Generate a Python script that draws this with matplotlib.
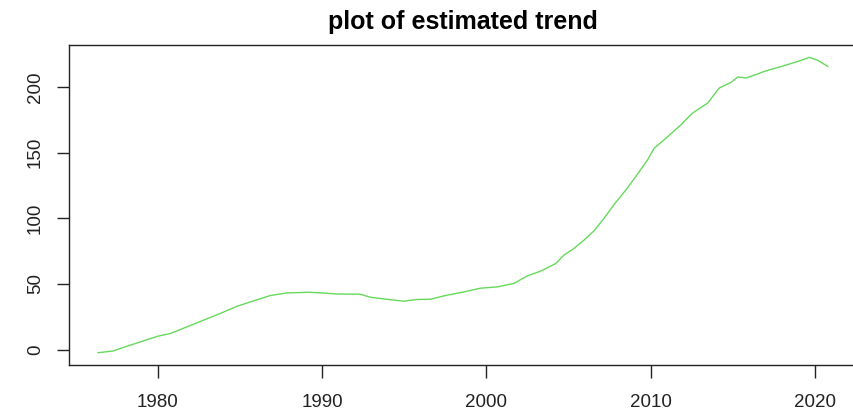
import matplotlib
matplotlib.use("Agg")
import matplotlib.pyplot as plt

years = [1976.38, 1977.29, 1978.1, 1979.12, 1980.0, 1980.75, 1981.77, 1982.78,
         1983.8, 1984.82, 1985.83, 1986.85, 1987.87, 1989.18, 1990.0, 1990.91,
         1992.33, 1992.95, 1994.06, 1994.98, 1995.79, 1996.6, 1997.62, 1998.43,
         1999.65, 2000.67, 2001.68, 2002.5, 2003.31, 2004.23, 2004.73, 2005.34,
         2005.95, 2006.56, 2007.17, 2007.78, 2008.5, 2009.1, 2009.82, 2010.22,
         2010.83, 2011.85, 2012.56, 2013.48, 2014.18, 2014.9, 2015.3, 2015.81,
         2016.52, 2016.93, 2018.15, 2019.17, 2019.67, 2020.18, 2020.79]
trend = [-2.3, -1.0, 2.5, 6.6, 10.2, 12.2, 17.3, 22.4,
         27.5, 33.0, 37.1, 41.2, 43.2, 43.7, 43.2, 42.4,
         42.2, 39.9, 38.2, 36.9, 38.2, 38.4, 41.5, 43.4,
         46.8, 47.8, 50.4, 56.2, 59.8, 65.6, 72.0, 77.1,
         83.4, 90.5, 100.0, 110.5, 121.6, 131.8, 144.5, 153.4,
         159.8, 171.2, 180.2, 187.8, 199.2, 203.5, 207.6, 206.9,
         209.9, 211.9, 216.3, 220.3, 222.6, 220.3, 215.7]
xticks = [1980, 1990, 2000, 2010, 2020]
yticks = [0, 50, 100, 150, 200]
title = "plot of estimated trend"

plt.rcParams['font.family'] = ['Liberation Sans', 'DejaVu Sans']

fig = plt.figure(figsize=(8.54, 4.19), dpi=100)
ax = fig.add_axes([69/854, 54.5/419, (857-69)/854, (364.5-45.5)/419])
ax.plot(years, trend, color='#66d95c', lw=1.0)

xr = max(years) - min(years)
yr = max(trend) - min(trend)
ax.set_xlim(min(years) - 0.04 * xr, max(years) + 0.04 * xr)
ax.set_ylim(min(trend) - 0.04 * yr, max(trend) + 0.04 * yr)

ax.set_xticks(xticks)
ax.set_yticks(yticks)
ax.set_xticklabels([str(v) for v in xticks])
ax.set_yticklabels([str(v) for v in yticks], rotation=90, va='center')
ax.tick_params(axis='both', direction='out', length=9, width=1.0, color='#222222',
               labelsize=13.5, labelcolor='#222222')
ax.tick_params(axis='x', pad=12)
ax.tick_params(axis='y', pad=9)
for s in ax.spines.values():
    s.set_linewidth(1.0)
    s.set_color('#222222')
ax.spines['right'].set_visible(False)

ax.set_title(title, fontsize=18, fontweight='bold', pad=12)

fig.savefig("out.png", dpi=100)
